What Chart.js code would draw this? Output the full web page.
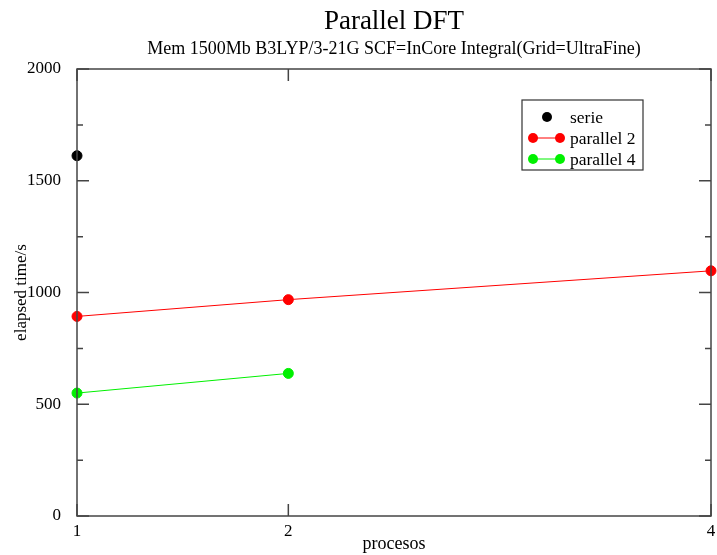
<!DOCTYPE html>
<html>
<head>
<meta charset="utf-8">
<script src="https://cdn.jsdelivr.net/npm/chart.js@4"></script>
<style>
  html, body { margin: 0; padding: 0; background: #fff; }
  #wrap { width: 717px; height: 555px; }
</style>
</head>
<body>
<div id="wrap"><canvas id="dft"></canvas></div>
<script>
const xTicks = [1, 2, 4];
const serieX = [1];
const serieY = [1612];
const par2X = [1, 2, 4];
const par2Y = [893, 968, 1097];
const par4X = [1, 2];
const par4Y = [550, 638];

const toPts = (xs, ys) => xs.map((x, i) => ({ x: x, y: ys[i] }));
const serif = 'Liberation Serif';

// grace-style frame, inward ticks and the boxed legend
const frameLegend = {
  id: 'frameLegend',
  afterDraw(chart) {
    const ctx = chart.ctx;
    const a = chart.chartArea;
    const xs = chart.scales.x, ys = chart.scales.y;
    ctx.save();
    ctx.strokeStyle = '#444';
    ctx.lineWidth = 1.5;
    ctx.strokeRect(a.left, a.top, a.right - a.left, a.bottom - a.top);
    ctx.beginPath();
    xTicks.forEach(v => {
      const px = xs.getPixelForValue(v);
      ctx.moveTo(px, a.bottom); ctx.lineTo(px, a.bottom - 12);
      ctx.moveTo(px, a.top); ctx.lineTo(px, a.top + 12);
    });
    for (let v = 0; v <= 2000; v += 250) {
      const py = ys.getPixelForValue(v);
      const len = v % 500 === 0 ? 12 : 6;
      ctx.moveTo(a.left, py); ctx.lineTo(a.left + len, py);
      ctx.moveTo(a.right, py); ctx.lineTo(a.right - len, py);
    }
    ctx.stroke();

    // legend
    const bx = 522, by = 100, bw = 121, bh = 70;
    ctx.fillStyle = '#fff';
    ctx.fillRect(bx, by, bw, bh);
    ctx.strokeStyle = '#333';
    ctx.lineWidth = 1.2;
    ctx.strokeRect(bx, by, bw, bh);
    ctx.font = '17.5px "' + serif + '"';
    ctx.textBaseline = 'middle';
    chart.data.datasets.forEach((ds, i) => {
      const y = by + 17 + i * 21;
      ctx.fillStyle = ds.borderColor;
      if (ds.showLine === false) {
        ctx.beginPath(); ctx.arc(547, y, 5, 0, Math.PI * 2); ctx.fill();
      } else {
        ctx.strokeStyle = ds.borderColor; ctx.lineWidth = 1;
        ctx.beginPath(); ctx.moveTo(533, y); ctx.lineTo(560, y); ctx.stroke();
        ctx.beginPath(); ctx.arc(533, y, 5, 0, Math.PI * 2); ctx.fill();
        ctx.beginPath(); ctx.arc(560, y, 5, 0, Math.PI * 2); ctx.fill();
      }
      ctx.fillStyle = '#000';
      ctx.fillText(ds.label, 570, y + 1);
    });
    ctx.restore();
  }
};

new Chart(document.getElementById('dft'), {
  type: 'scatter',
  data: {
    datasets: [
      { label: 'serie', data: toPts(serieX, serieY), showLine: false,
        borderColor: '#000000', backgroundColor: '#000000', pointRadius: 5 },
      { label: 'parallel 2', data: toPts(par2X, par2Y), showLine: true,
        borderColor: '#ff0000', backgroundColor: '#ff0000', borderWidth: 1, pointRadius: 5 },
      { label: 'parallel 4', data: toPts(par4X, par4Y), showLine: true,
        borderColor: '#00f000', backgroundColor: '#00f000', borderWidth: 1, pointRadius: 5 }
    ]
  },
  options: {
    responsive: true,
    maintainAspectRatio: false,
    animation: false,
    clip: false,
    layout: { padding: { left: 0, right: 0, top: 0, bottom: 0 } },
    plugins: {
      legend: { display: false },
      tooltip: { enabled: false },
      title: {
        display: true, fullSize: false, text: 'Parallel DFT', color: '#000',
        font: { family: serif, size: 27, weight: 'normal' },
        padding: { top: 6, bottom: 0 }
      },
      subtitle: {
        display: true, fullSize: false,
        text: 'Mem 1500Mb B3LYP/3-21G SCF=InCore Integral(Grid=UltraFine)',
        color: '#000', font: { family: serif, size: 18 },
        padding: { top: 0, bottom: 9 }
      }
    },
    scales: {
      x: {
        type: 'linear', min: 1, max: 4,
        afterBuildTicks: s => { s.ticks = xTicks.map(v => ({ value: v })); },
        afterFit: s => { s.height = 39; },
        grid: { display: false },
        border: { display: false },
        ticks: { color: '#000', font: { family: serif, size: 17 }, padding: -3,
          maxRotation: 0, callback: v => String(v) },
        title: { display: true, text: 'procesos', color: '#000',
          font: { family: serif, size: 18 }, padding: { top: 0, bottom: 0 } }
      },
      y: {
        min: 0, max: 2000,
        afterFit: s => { s.width = 77; },
        grid: { display: false },
        border: { display: false },
        ticks: { stepSize: 500, color: '#000', font: { family: serif, size: 17 }, padding: 8,
          callback: v => String(v) },
        title: { display: true, text: 'elapsed time/s', color: '#000',
          font: { family: serif, size: 17 }, padding: { top: 11, bottom: 0 } }
      }
    }
  },
  plugins: [frameLegend]
});
</script>
</body>
</html>
